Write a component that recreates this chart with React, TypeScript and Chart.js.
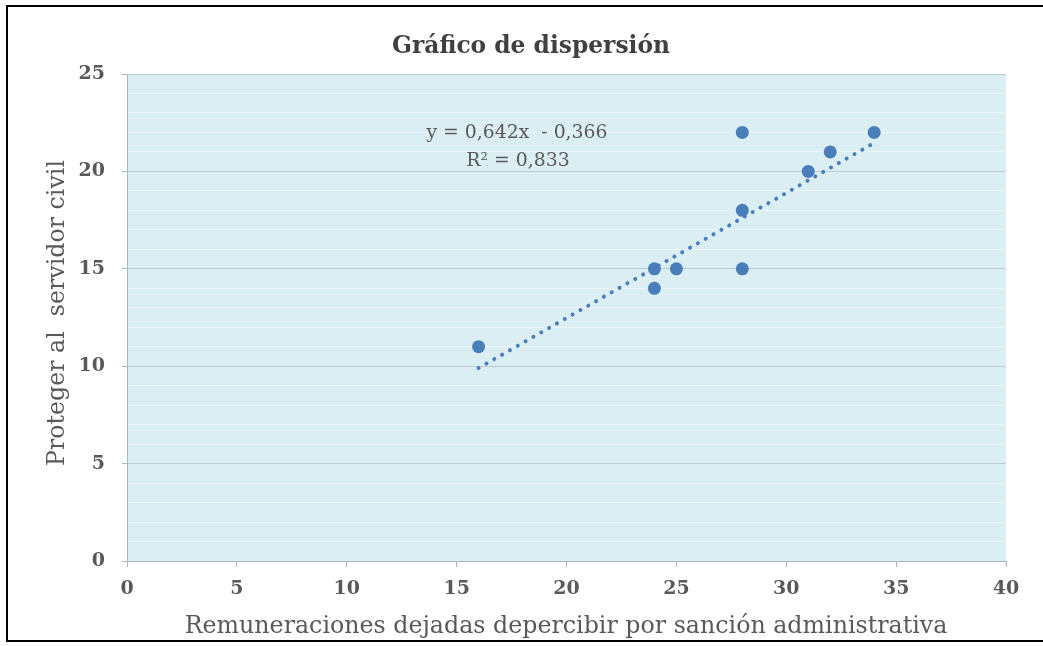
import React, { useEffect, useRef } from "react";
import { Chart, registerables } from "chart.js";

Chart.register(...registerables);

const xValues = [16, 24, 24, 25, 28, 28, 28, 31, 32, 34];
const yValues = [11, 15, 14, 15, 22, 18, 15, 20, 21, 22];
const trendX = [16, 34];
const trendY = [9.906, 21.462];

const chartTitle = "Gráfico de dispersión";
const xTitle = "Remuneraciones dejadas depercibir por sanción administrativa";
const yTitle = "Proteger al  servidor civil";
const equationLines = ["y = 0,642x  - 0,366", "R² = 0,833"];

const FONT = "'DejaVu Serif', serif";

function fitText(ctx: CanvasRenderingContext2D, text: string, weight: string, target: number) {
  ctx.font = `${weight} 20px ${FONT}`;
  const w = ctx.measureText(text).width;
  const size = (20 * target) / w;
  ctx.font = `${weight} ${size.toFixed(2)}px ${FONT}`;
}

const decorPlugin = {
  id: "decor",
  beforeDraw(chart: any) {
    const { ctx, chartArea } = chart;
    ctx.save();
    ctx.fillStyle = "#ffffff";
    ctx.fillRect(0, 0, chart.width, chart.height);
    ctx.fillStyle = "#daeef3";
    ctx.fillRect(chartArea.left, chartArea.top, chartArea.right - chartArea.left, chartArea.bottom - chartArea.top);
    ctx.restore();
  },
  afterDraw(chart: any) {
    const { ctx } = chart;
    ctx.save();
    ctx.fillStyle = "#404040";
    ctx.textAlign = "center";
    ctx.textBaseline = "alphabetic";
    fitText(ctx, chartTitle, "bold", 278);
    ctx.fillText(chartTitle, 531, 53);
    ctx.fillStyle = "#595959";
    fitText(ctx, xTitle, "normal", 763);
    ctx.fillText(xTitle, 566, 633);
    ctx.save();
    ctx.translate(58, 313);
    ctx.rotate(-Math.PI / 2);
    ctx.textBaseline = "middle";
    fitText(ctx, yTitle, "normal", 306);
    ctx.fillText(yTitle, 0, 0);
    ctx.restore();
    ctx.textBaseline = "middle";
    fitText(ctx, equationLines[0], "normal", 181);
    ctx.fillText(equationLines[0], 517, 133);
    ctx.fillText(equationLines[1], 518, 161);
    ctx.restore();
  },
};

export default function App() {
  const ref = useRef<HTMLCanvasElement | null>(null);
  useEffect(() => {
    if (!ref.current) return;
    const chart = new Chart(ref.current, {
      type: "scatter",
      data: {
        datasets: [
          {
            type: "scatter",
            label: "Datos",
            data: xValues.map((x, i) => ({ x, y: yValues[i] })),
            backgroundColor: "#4a7ebb",
            borderColor: "#4a7ebb",
            borderWidth: 0,
            pointRadius: 6.5,
            order: 1,
          },
          {
            type: "line",
            label: "Tendencia",
            data: trendX.map((x, i) => ({ x, y: trendY[i] })),
            borderColor: "#4a7ebb",
            borderWidth: 4,
            borderDash: [0.01, 9],
            borderCapStyle: "round",
            pointRadius: 0,
            fill: false,
            order: 2,
          } as any,
        ],
      },
      options: {
        responsive: false,
        animation: false,
        layout: { padding: { left: 0, top: 74, right: 37, bottom: 0 } },
        plugins: { legend: { display: false }, tooltip: { enabled: false }, title: { display: false } },
        scales: {
          x: {
            type: "linear",
            position: "bottom",
            min: 0,
            max: 40,
            ticks: { stepSize: 5, color: "#595959", font: { family: FONT, size: 19, weight: "bold" }, padding: 11 },
            grid: { drawOnChartArea: false, drawTicks: true, tickLength: 6, color: "#a9b8be" },
            border: { display: true, color: "#a9b8be", width: 1 },
            afterFit(s: any) {
              s.height = 85;
            },
          },
          y: {
            type: "linear",
            min: 0,
            max: 25,
            ticks: {
              stepSize: 1,
              autoSkip: false,
              color: "#595959",
              font: { family: FONT, size: 19, weight: "bold" },
              padding: 17,
              callback: (v: any) => (Number(v) % 5 === 0 ? String(v) : ""),
            },
            grid: {
              color: (c: any) => (c.tick && c.tick.value % 5 === 0 ? "#bccbd1" : "#ecf6f9"),
              tickColor: (c: any) => (c.tick && c.tick.value % 5 === 0 ? "#a9b8be" : "rgba(0,0,0,0)"),
              tickLength: 5,
              drawTicks: true,
            },
            border: { display: true, color: "#a9b8be", width: 1 },
            afterFit(s: any) {
              s.width = 127;
            },
          },
        },
      },
      plugins: [decorPlugin],
    });
    return () => chart.destroy();
  }, []);
  return (
    <div style={{ position: "fixed", left: 0, top: 0, width: 1043, height: 646, background: "#fff", overflow: "hidden" }}>
      <canvas ref={ref} width={1043} height={646} style={{ display: "block" }} />
      <div
        style={{
          position: "absolute",
          left: 6,
          top: 5,
          width: 1200,
          height: 633,
          borderTop: "2px solid #000",
          borderLeft: "2px solid #000",
          borderBottom: "2px solid #000",
          pointerEvents: "none",
        }}
      />
    </div>
  );
}
